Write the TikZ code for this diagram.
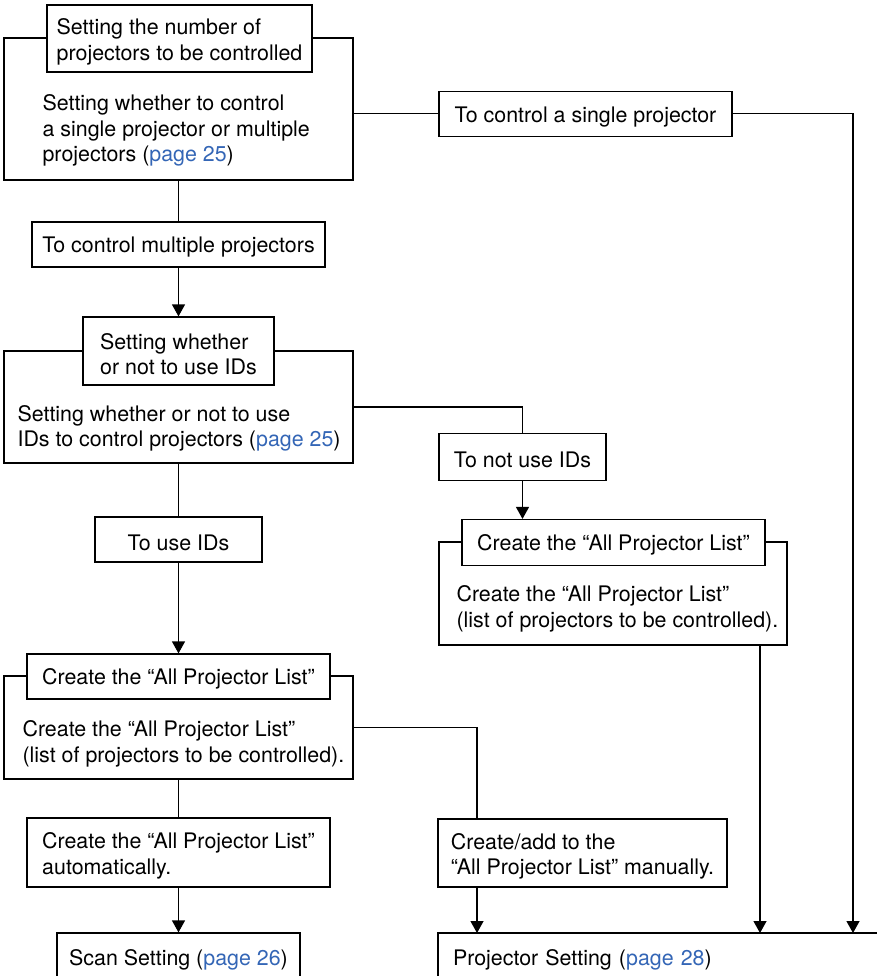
\documentclass[tikz,border=0pt]{standalone}
\usepackage{fontspec}
\setmainfont{TeX Gyre Heros}
\usepackage{tikz}
\usetikzlibrary{arrows.meta}
\definecolor{pagelink}{RGB}{52,102,182}
\newcommand{\pg}[1]{\textcolor{pagelink}{page #1}}
\newcommand{\lift}{\rule{0pt}{22.4pt}}

\begin{document}
\begin{tikzpicture}[x=1pt,y=-1pt,>={Triangle[length=12pt,width=13pt]},line width=1.2pt,
  box/.style={draw,rectangle,fill=white,inner sep=0pt,align=left,
    execute at begin node={\rule{0pt}{21.4pt}}},
  txt/.style={anchor=west,align=left,inner sep=0pt},
  font=\fontsize{21.4}{25.5}\selectfont]
\useasboundingbox (0,0) rectangle (876,976);
% number of projectors
\node[box,minimum width=349pt,minimum height=142pt] (A) at (178.5,109) {};
\node[box,minimum width=265pt,minimum height=67pt] (aT) at (179.5,38.5) {\lift Setting the number of\\projectors to be controlled};
\node[txt] (aB) at (42,130.5) {Setting whether to control\\a single projector or multiple\\projectors (\pg{25})};
\node[box,minimum width=293pt,minimum height=45pt] (single) at (585.5,113.75) {To control a single projector};
\node[box,minimum width=293pt,minimum height=45pt] (multi) at (178.5,244.5) {To control multiple projectors};
% IDs
\node[box,minimum width=349pt,minimum height=112pt] (B) at (178.5,407) {};
\node[box,minimum width=191pt,minimum height=68pt] (bT) at (178.5,351) {\lift Setting whether\\or not to use IDs};
\node[txt] (bB) at (17,428.5) {Setting whether or not to use\\IDs to control projectors (\pg{25})};
\node[box,minimum width=167pt,minimum height=47pt] (notuse) at (522.5,457) {To not use IDs};
\node[box,minimum width=167pt,minimum height=45pt] (useid) at (178.5,539.5) {To use IDs};
% list without IDs
\node[box,minimum width=348pt,minimum height=103pt] (C) at (613,593.5) {};
\node[box,minimum width=303pt,minimum height=46pt] (cT) at (613.5,542.5) {Create the “All Projector List”};
\node[txt] (cB) at (456,609) {Create the “All Projector List”\\(list of projectors to be controlled).};
% list with IDs
\node[box,minimum width=349pt,minimum height=103pt] (D) at (178.5,727.5) {};
\node[box,minimum width=303pt,minimum height=45pt] (dT) at (178.5,676.5) {Create the “All Projector List”};
\node[txt] (dB) at (22,744) {Create the “All Projector List”\\(list of projectors to be controlled).};
\node[box,minimum width=303pt,minimum height=69pt] (auto) at (178.5,852.5) {\lift Create the “All Projector List”\\automatically.};
\node[box,minimum width=289pt,minimum height=68pt] (manual) at (582.5,853) {\lift Create/add to the\\“All Projector List” manually.};
% settings
\node[box,minimum width=243pt,minimum height=49pt] (scan) at (178.5,957.5) {Scan Setting (\pg{26})};
\node[box,minimum width=462pt,minimum height=49pt,text width=432pt] (proj) at (669,957.5) {Projector Setting (\pg{28})};
\coordinate (pm) at (477,933);
\coordinate (pc) at (760,933);
\coordinate (ps) at (853,933);
% connectors
\draw (A.east |- single) -- (single);
\draw[->] (single.east) -| (ps);
\draw (A) -- (multi);
\draw[->] (multi) -- (bT);
\draw (B.east) -| (notuse);
\draw[->] (notuse) -- (notuse |- cT.north);
\draw[->] (C.south -| pc) -- (pc);
\draw (B) -- (useid);
\draw[->] (useid) -- (dT);
\draw (D) -- (auto);
\draw[->] (auto) -- (scan);
\draw (D.east) -| (manual.north -| pm);
\draw[->] (manual.south -| pm) -- (pm);
\end{tikzpicture}
\end{document}
